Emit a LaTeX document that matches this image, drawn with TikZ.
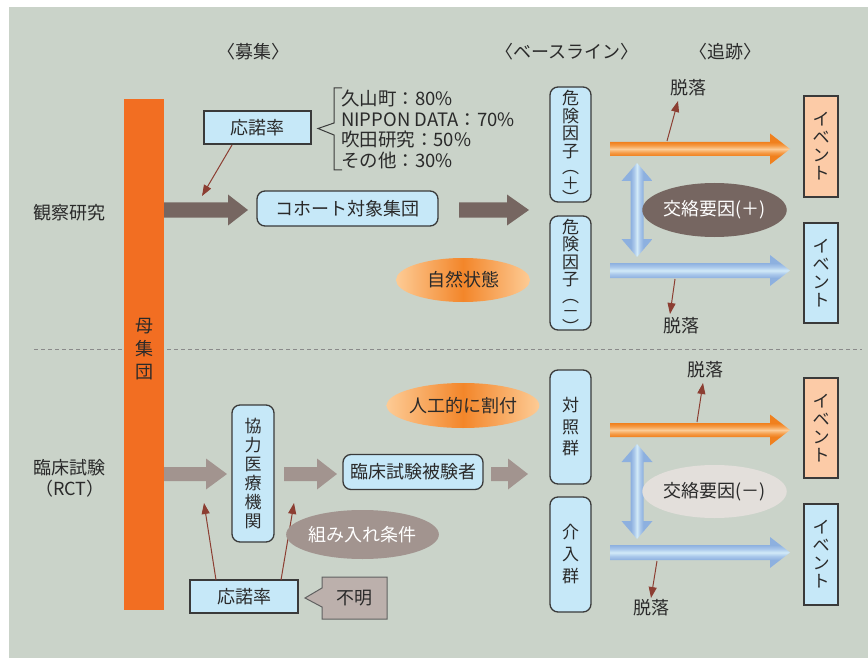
\documentclass[tikz,border=0pt]{standalone}
\usepackage{fontspec}
\setmainfont{Noto Sans CJK JP}
\usetikzlibrary{arrows.meta,shapes.geometric}
\definecolor{bg}{HTML}{CAD3C9}
\definecolor{barorange}{HTML}{F26E22}
\definecolor{lblue}{HTML}{C6E8F8}
\definecolor{edge}{HTML}{3A3A3A}
\definecolor{txt}{HTML}{2A2A2A}
\definecolor{brownarr}{HTML}{766661}
\definecolor{mauve}{HTML}{A2948F}
\definecolor{redb}{HTML}{8C3E32}
\definecolor{peach}{HTML}{FCCBA7}
\definecolor{blueA}{HTML}{8DB0DF}
\definecolor{blueB}{HTML}{D2EAF8}
\definecolor{blueC}{HTML}{A9C7EA}
\definecolor{orA}{HTML}{F0801E}
\definecolor{orB}{HTML}{FCCB96}
\definecolor{orC}{HTML}{F59A45}
\definecolor{ellL}{HTML}{FDCB95}
\definecolor{ellM}{HTML}{F3862A}
\definecolor{fumei}{HTML}{BCB0AC}
\definecolor{confminus}{HTML}{E3DFDB}
\definecolor{dashc}{HTML}{8A8A8A}
\pgfdeclareverticalshading{orstripe}{100bp}{color(0bp)=(orA); color(39bp)=(orA); color(44bp)=(orC); color(50bp)=(orB); color(56bp)=(orC); color(61bp)=(orA); color(100bp)=(orA)}
\pgfdeclareverticalshading{bluestripe}{100bp}{color(0bp)=(blueA); color(38bp)=(blueA); color(44bp)=(blueC); color(50bp)=(blueB); color(56bp)=(blueC); color(62bp)=(blueA); color(100bp)=(blueA)}
\pgfdeclarehorizontalshading{bluestripeH}{100bp}{color(0bp)=(blueA); color(40bp)=(blueA); color(45bp)=(blueC); color(50bp)=(blueB); color(55bp)=(blueC); color(60bp)=(blueA); color(100bp)=(blueA)}
% right-pointing fat arrow: options, x1, x2, yc, shaft half, head half, head length
\newcommand\fatR[7]{\path[#1] ({#2},{#4-#5}) -- ({#3-#7},{#4-#5}) -- ({#3-#7},{#4-#6}) -- ({#3},{#4}) -- ({#3-#7},{#4+#6}) -- ({#3-#7},{#4+#5}) -- ({#2},{#4+#5}) -- cycle;}
% vertical double arrow: options, xc, y1, y2, shaft half, head half, head length
\newcommand\fatUD[7]{\path[#1] ({#2},{#3}) -- ({#2+#6},{#3+#7}) -- ({#2+#5},{#3+#7}) -- ({#2+#5},{#4-#7}) -- ({#2+#6},{#4-#7}) -- ({#2},{#4}) -- ({#2-#6},{#4-#7}) -- ({#2-#5},{#4-#7}) -- ({#2-#5},{#3+#7}) -- ({#2-#6},{#3+#7}) -- cycle;}
\begin{document}
\begin{tikzpicture}[x=1pt,y=-1pt,
  every node/.style={font=\fontsize{18}{20}\selectfont, text=txt, inner sep=0pt},
  bbox/.style={draw=edge, line width=1.3pt, fill=lblue, rectangle},
  rbox/.style={bbox, rounded corners=8pt},
  thinarr/.style={draw=redb, line width=1pt, -{Triangle[length=11pt,width=8pt]}},
  orangearr/.style={shading=orstripe},
  bluearr/.style={shading=bluestripe},
  bluearrV/.style={shading=bluestripeH},
  orell/.style={ellipse, left color=ellL, right color=ellL, middle color=ellM},
  vlabel/.style={align=center, font=\fontsize{17}{17.5}\selectfont},
]
\useasboundingbox (0,0) rectangle (868,658);
\fill[white] (0,0) rectangle (868,658);
\fill[bg] (9,7) rectangle (868,658);

% headings
\node (h1) at (253,52) {〈募集〉};
\node (h2) at (567,52) {〈ベースライン〉};
\node (h3) at (725,52) {〈追跡〉};

% left labels
\node (obs) at (70,213) {観察研究};
\node[align=center, font=\fontsize{18}{21}\selectfont] (rct) at (70,478) {臨床試験\\（RCT）};

% dashed separator
\coordinate (dl) at (34,349);
\coordinate (dr) at (862,349);
\draw[dashc, line width=1pt, dash pattern=on 4pt off 3pt] (dl) -- (dr);

% population bar
\node[rectangle, fill=barorange, minimum width=40pt, minimum height=511pt] (bar) at (144,354.5) {};
\node[align=center, font=\fontsize{18}{23}\selectfont] (barlbl) at (144,349) {母\\集\\団};

% ===== observational part =====
\node[bbox, minimum width=107pt, minimum height=33pt] (ok1) at (257.5,127.5) {応諾率};
\draw[edge, line width=1pt] (342,88) -- (334,88) -- (334,123) -- (318,128.5) -- (334,135) -- (334,170) -- (342,170);
\node[align=left, anchor=west, font=\fontsize{18.5}{20.5}\selectfont] (rates) at (341,129.5) {久山町：80\%\\NIPPON DATA：70\%\\吹田研究：50\%\\その他：30\%};
\coordinate (ok1s) at (232,145);
\coordinate (ok1t) at (202,196);
\draw[thinarr] (ok1s) -- (ok1t);

\fatR{fill=brownarr}{164}{248}{210}{7.5}{15.5}{20}
\node[rbox, minimum width=181pt, minimum height=35pt] (cohort) at (347.5,208.5) {コホート対象集団};
\fatR{fill=brownarr}{459}{529}{210}{7.5}{15.5}{22}

\node[rbox, minimum width=41pt, minimum height=115pt] (rfp) at (570.5,144.5) {};
\node[vlabel] (rfplbl) at (570.5,147.5) {危\\険\\因\\子\\[-1pt]︵\\[-2pt]＋\\[-2pt]︶};
\node[rbox, minimum width=41pt, minimum height=114pt] (rfm) at (570.5,273) {};
\node[vlabel] (rfmlbl) at (570.5,276) {危\\険\\因\\子\\[-1pt]︵\\[-2pt]－\\[-2pt]︶};

\node[orell, minimum width=134pt, minimum height=44pt] (nat) at (463,280) {自然状態};

\fatR{orangearr}{610}{790}{149}{7}{15.5}{20}
\fatR{bluearr}{610}{790}{270.5}{7.5}{15.5}{20}
\fatUD{bluearrV}{637}{163}{257}{6.5}{15.5}{18}

\node[ellipse, fill=brownarr, minimum width=125pt, minimum height=54pt, text=white] (confp) at (714.5,210) {交絡要因(＋)};

\node (drop1) at (688,88) {脱落};
\coordinate (d1s) at (667,141);
\coordinate (d1t) at (678,101);
\draw[thinarr] (d1s) -- (d1t);
\node (drop2) at (681,326) {脱落};
\coordinate (d2s) at (675,279);
\coordinate (d2t) at (670,314);
\draw[thinarr] (d2s) -- (d2t);

\node[bbox, fill=peach, minimum width=34pt, minimum height=101pt, align=center, font=\fontsize{17}{18}\selectfont] (ev1) at (821,146.5) {イ\\ベ\\ン\\ト};
\node[bbox, minimum width=34pt, minimum height=100pt, align=center, font=\fontsize{17}{18}\selectfont] (ev2) at (821,273) {イ\\ベ\\ン\\ト};

% ===== RCT part =====
\fatR{fill=mauve}{164}{227}{474}{7}{15.5}{21}
\node[rbox, minimum width=42pt, minimum height=137pt, align=center, font=\fontsize{17}{19}\selectfont] (coop) at (253,473.5) {協\\力\\医\\療\\機\\関};
\fatR{fill=mauve}{284}{337}{474}{7}{15.5}{20}
\node[rbox, minimum width=140pt, minimum height=35pt] (subj) at (413,472) {臨床試験被験者};
\fatR{fill=mauve}{491}{528}{474}{7}{15.5}{20}

\node[bbox, minimum width=108pt, minimum height=33pt] (ok2) at (244,596.5) {応諾率};
\coordinate (ok2a) at (216,580);
\coordinate (ok2at) at (204,503);
\coordinate (ok2b) at (281,580);
\coordinate (ok2bt) at (294,503);
\draw[thinarr] (ok2a) -- (ok2at);
\draw[thinarr] (ok2b) -- (ok2bt);

\draw[fill=fumei, draw=edge!80, line width=1pt] (322,577) -- (387,577) -- (387,619) -- (322,619) -- (322,607) -- (305,598) -- (322,588) -- cycle;
\node (fumeilbl) at (354.5,598) {不明};

\node[ellipse, fill=mauve, minimum width=131pt, minimum height=49pt, text=white] (incl) at (362.5,534.5) {組み入れ条件};
\node[orell, minimum width=135pt, minimum height=45pt] (art) at (463,405.5) {人工的に割付};

\node[rbox, minimum width=41pt, minimum height=114pt, align=center, font=\fontsize{17}{21.5}\selectfont] (ctrl) at (570.5,427) {対\\照\\群};
\node[rbox, minimum width=41pt, minimum height=115pt, align=center, font=\fontsize{17}{22}\selectfont] (intv) at (570.5,554.5) {介\\入\\群};

\fatR{orangearr}{610}{790}{430}{7}{15.5}{20}
\fatR{bluearr}{610}{790}{552.5}{7.5}{15.5}{20}
\fatUD{bluearrV}{637}{444}{539}{6.5}{15.5}{18}

\node[ellipse, fill=confminus, minimum width=125pt, minimum height=53pt] (confm) at (714.5,491.5) {交絡要因(－)};

\node (drop3) at (705,370) {脱落};
\coordinate (d3s) at (697,422);
\coordinate (d3t) at (703,383);
\draw[thinarr] (d3s) -- (d3t);
\node (drop4) at (651,608) {脱落};
\coordinate (d4s) at (657,561);
\coordinate (d4t) at (651,598);
\draw[thinarr] (d4s) -- (d4t);

\node[bbox, fill=peach, minimum width=34pt, minimum height=100pt, align=center, font=\fontsize{17}{18}\selectfont] (ev3) at (821,428) {イ\\ベ\\ン\\ト};
\node[bbox, minimum width=34pt, minimum height=101pt, align=center, font=\fontsize{17}{18}\selectfont] (ev4) at (821,554.5) {イ\\ベ\\ン\\ト};
\end{tikzpicture}
\end{document}
